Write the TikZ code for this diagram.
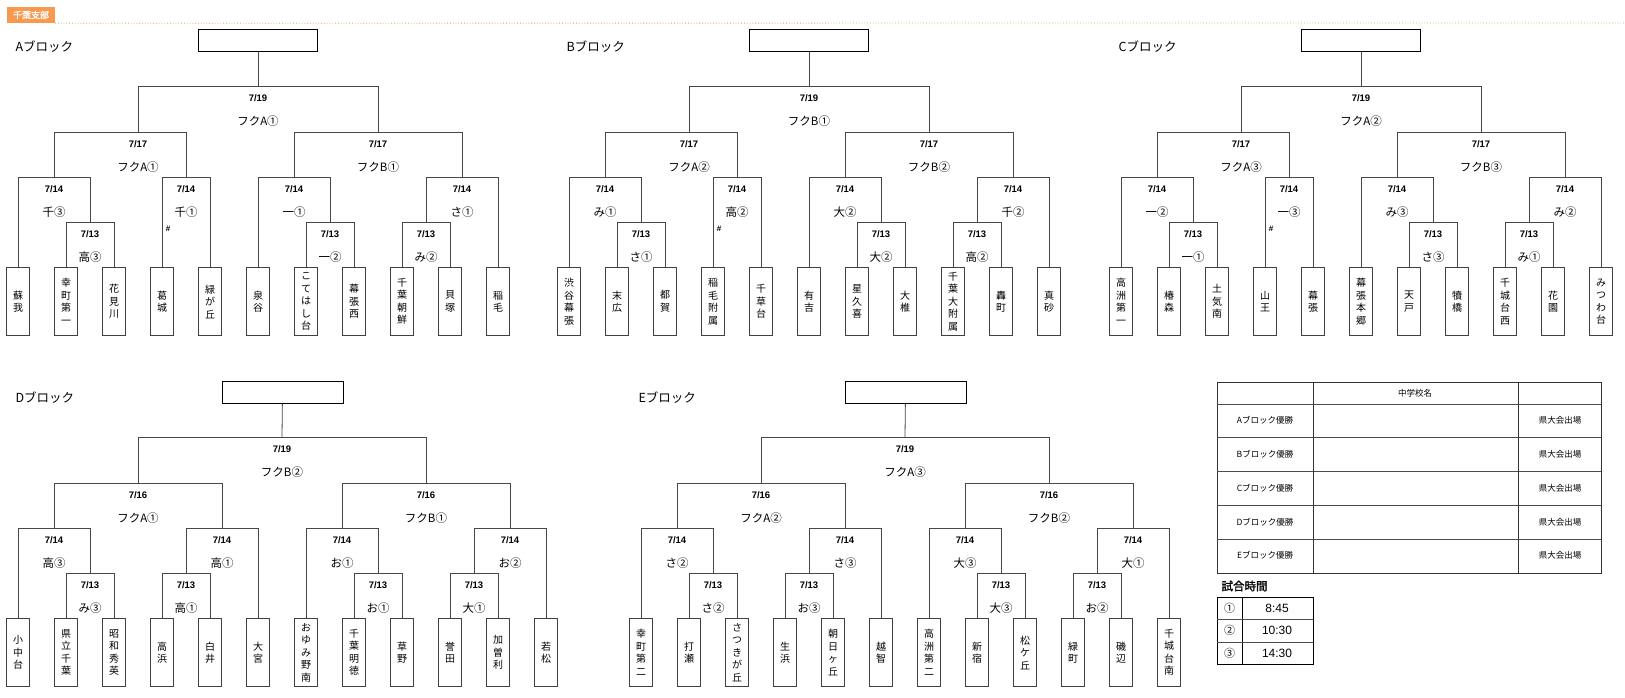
\documentclass[tikz,border=0pt]{standalone}
\usepackage{fontspec}
\setmainfont{Noto Sans CJK JP}[AutoFakeBold=1.5]
\newfontfamily\lat{Liberation Sans}
\usetikzlibrary{calc}
\definecolor{hdr}{HTML}{F79A50}
\definecolor{dotc}{HTML}{E0A040}
\tikzset{
 ln/.style={draw=black!72,line width=0.8pt},
 team/.style={draw=black!75,line width=0.8pt,rectangle,minimum width=23pt,minimum height=68pt,inner sep=0pt,align=center,font=\fontsize{10}{12.5}\selectfont},
 dt/.style={font=\lat\bfseries\fontsize{9.5}{10}\selectfont},
 lb/.style={font=\fontsize{11.5}{12}\selectfont},
 ttl/.style={draw=black,line width=1pt,minimum width=119pt,minimum height=22pt,inner sep=0pt},
 blk/.style={anchor=west,font=\fontsize{12.5}{13}\selectfont},
 hs/.style={font=\lat\bfseries\fontsize{8}{8}\selectfont},
 tb/.style={font=\fontsize{8.5}{9}\selectfont},
}
\newcommand{\mt}[7]{%
 \coordinate (#1) at (#5,#4);
 \draw[ln] (#2) -- (#2 |- #1) -- (#3 |- #1) -- (#3);
 \node[dt] at ($(#1)+(0,12)$) {#6};
 \node[lb] at ($(#1)+(0,35)$) {#7};}
\newcommand{\teams}[2]{\foreach \n [count=\i from 0] in {#2} {\node[team] (#1\i) at (18+48*\i,301.5) {\n};}}
% A-type (11 teams)
\newcommand{\aleft}[5]{%
 \mt{#1m1}{#11.north}{#12.north}{222}{90}{7/13}{#2}%
 \mt{#1m2}{#10.north}{#1m1}{177}{54}{7/14}{#3}%
 \mt{#1m3}{#13.north}{#14.north}{177}{186}{7/14}{#4}%
 \node[hs] at (168,229) {\#};
 \mt{#1m4}{#1m2}{#1m3}{132}{138}{7/17}{#5}}
\newcommand{\aright}[6]{%
 \mt{#1m5}{#16.north}{#17.north}{222}{330}{7/13}{#2}%
 \mt{#1m6}{#15.north}{#1m5}{177}{294}{7/14}{#3}%
 \mt{#1m7}{#18.north}{#19.north}{222}{426}{7/13}{#4}%
 \mt{#1m8}{#1m7}{#110.north}{177}{462}{7/14}{#5}%
 \mt{#1m9}{#1m6}{#1m8}{132}{378}{7/17}{#6}}
\newcommand{\afinal}[3]{%
 \mt{#1f}{#1m4}{#1m9}{86}{258}{7/19}{#2}%
 \node[ttl] (#1t) at (258,41) {};
 \draw[ln] (#1t) -- (#1f);
 \node[blk] at (12,47) {#3};}
% D-type (12 teams)
\newcommand{\dleft}[5]{%
 \mt{#1m1}{#11.north}{#12.north}{222}{90}{7/13}{#2}%
 \mt{#1m2}{#10.north}{#1m1}{177}{54}{7/14}{#3}%
 \mt{#1m3}{#13.north}{#14.north}{222}{186}{7/13}{#4}%
 \mt{#1m4}{#1m3}{#15.north}{177}{222}{7/14}{#5}}
\newcommand{\dright}[6]{%
 \mt{#1m5}{#1m2}{#1m4}{132}{138}{7/16}{#2}%
 \mt{#1m6}{#17.north}{#18.north}{222}{378}{7/13}{#3}%
 \mt{#1m7}{#16.north}{#1m6}{177}{342}{7/14}{#4}%
 \mt{#1m8}{#19.north}{#110.north}{222}{474}{7/13}{#5}%
 \mt{#1m9}{#1m8}{#111.north}{177}{510}{7/14}{#6}}
\newcommand{\dfinal}[4]{%
 \mt{#1m10}{#1m7}{#1m9}{132}{426}{7/16}{#2}%
 \mt{#1f}{#1m5}{#1m10}{86}{282}{7/19}{#3}%
 \node[ttl,minimum width=121pt] (#1t) at (282.5,41) {};
 \draw[ln] (#1t) -- (#1f);
 \node[blk] at (12,47) {#4};}
\begin{document}
\begin{tikzpicture}[x=1pt,y=-1pt]
\useasboundingbox (0,0) rectangle (1625,698);
\node[fill=hdr,text=white,font=\bfseries\fontsize{9}{9}\selectfont,minimum width=48pt,minimum height=16pt,inner sep=0pt] (hd) at (31,15) {千葉支部};
\draw[dotc,dotted,line width=0.8pt] (hd.south east) -- (1625,23);
% A
\teams{a}{蘇\\我,幸\\町\\第\\一,花\\見\\川,葛\\城,緑\\が\\丘,泉\\谷,こ\\て\\は\\し\\台,幕\\張\\西,千\\葉\\朝\\鮮,貝\\塚,稲\\毛}
\aleft{a}{高③}{千③}{千①}{フクA①}
\aright{a}{一②}{一①}{み②}{さ①}{フクB①}
\afinal{a}{フクA①}{Aブロック}
% B
\begin{scope}[xshift=551pt]
\teams{b}{渋\\谷\\幕\\張,末\\広,都\\賀,稲\\毛\\附\\属,千\\草\\台,有\\吉,星\\久\\喜,大\\椎,千\\葉\\大\\附\\属,轟\\町,真\\砂}
\aleft{b}{さ①}{み①}{高②}{フクA②}
\aright{b}{大②}{大②}{高②}{千②}{フクB②}
\afinal{b}{フクB①}{Bブロック}
\end{scope}
% C
\begin{scope}[xshift=1103pt]
\teams{c}{高\\洲\\第\\一,椿\\森,土\\気\\南,山\\王,幕\\張,幕\\張\\本\\郷,天\\戸,犢\\橋,千\\城\\台\\西,花\\園,み\\つ\\わ\\台}
\aleft{c}{一①}{一②}{一③}{フクA③}
\aright{c}{さ③}{み③}{み①}{み②}{フクB③}
\afinal{c}{フクA②}{Cブロック}
\end{scope}
% D
\begin{scope}[yshift=-351pt]
\teams{d}{小\\中\\台,県\\立\\千\\葉,昭\\和\\秀\\英,高\\浜,白\\井,大\\宮,お\\ゆ\\み\\野\\南,千\\葉\\明\\徳,草\\野,誉\\田,加\\曽\\利,若\\松}
\dleft{d}{み③}{高③}{高①}{高①}
\dright{d}{フクA①}{お①}{お①}{大①}{お②}
\dfinal{d}{フクB①}{フクB②}{Dブロック}
\end{scope}
% E
\begin{scope}[xshift=623pt,yshift=-351pt]
\teams{e}{幸\\町\\第\\二,打\\瀬,さ\\つ\\き\\が\\丘,生\\浜,朝\\日\\ヶ\\丘,越\\智,高\\洲\\第\\二,新\\宿,松\\ケ\\丘,緑\\町,磯\\辺,千\\城\\台\\南}
\dleft{e}{さ②}{さ②}{お③}{さ③}
\dright{e}{フクA②}{大③}{大③}{お②}{大①}
\dfinal{e}{フクB②}{フクA③}{Eブロック}
\end{scope}
% result table
\draw[black!80,line width=0.8pt] (1217,382) rectangle (1601,573);
\foreach \yy in {404,437,471,505,539} \draw[black!70,line width=0.7pt] (1217,\yy) -- (1601,\yy);
\foreach \xx in {1313,1518} \draw[black!80,line width=0.8pt] (\xx,382) -- (\xx,573);
\node[tb] at (1415,393) {中学校名};
\foreach \L [count=\i from 0] in {A,B,C,D,E} {
 \node[tb] at (1265,420.5+33.8*\i) {\L ブロック優勝};
 \node[tb] at (1560,420.5+33.8*\i) {県大会出場};}
% times
\node[anchor=west,font=\bfseries\fontsize{11.5}{12}\selectfont] at (1218,586) {試合時間};
\draw[black,line width=0.8pt] (1217,597) rectangle (1313,664);
\draw[black,line width=0.8pt] (1242,597) -- (1242,664);
\draw[black!70,line width=0.7pt] (1217,619) -- (1313,619) (1217,642) -- (1313,642);
\foreach \c/\t [count=\i from 0] in {①/8:45,②/10:30,③/14:30} {
 \node[font=\fontsize{11}{12}\selectfont] at (1229.5,608+22.5*\i) {\c};
 \node[font=\lat\fontsize{12}{12}\selectfont] at (1277,608+22.5*\i) {\t};}
\end{tikzpicture}
\end{document}
